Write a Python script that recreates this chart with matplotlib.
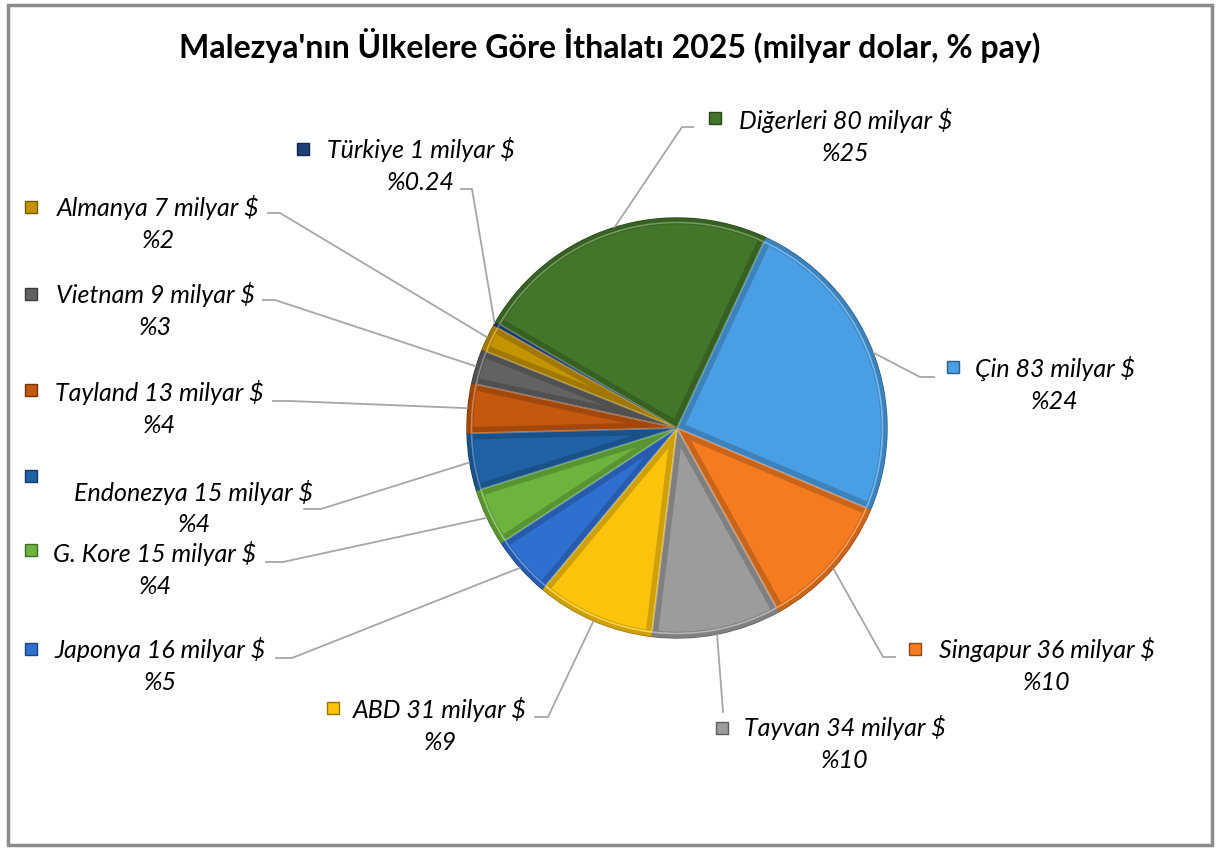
import matplotlib.pyplot as plt
from matplotlib.patches import Rectangle, Wedge
import matplotlib.colors as mcolors
import numpy as np

plt.rcParams['font.family'] = ['Lato', 'DejaVu Sans']

# veriler
countries = ["Çin", "Singapur", "Tayvan", "ABD", "Japonya", "G. Kore",
             "Endonezya", "Tayland", "Vietnam", "Almanya", "Türkiye", "Diğerleri"]
values = [83, 36, 34, 31, 16, 15, 15, 13, 9, 7, 1, 80]
shares = ["%24", "%10", "%10", "%9", "%5", "%4", "%4", "%4", "%3", "%2", "%0.24", "%25"]

colors = ["#4A9FE4", "#F47B20", "#9C9C9C", "#FBC30C", "#2F6FD0", "#6DB43E",
          "#1F63A6", "#C5580F", "#626262", "#C49400", "#203F78", "#43762A"]

W, H = 1217, 850

# etiket yerleşimi (piksel, sol üstten): satır1 merkezi, kutu, kılavuz çizgisi köşe/uç
label_pos = {
    "Çin":       dict(c=(1055, 368), k=(953, 367), lead=[(920, 377), (934, 377)]),
    "Singapur":  dict(c=(1047, 650), k=(915, 649), lead=[(883, 657), (895, 657)]),
    "Tayvan":    dict(c=(845, 728),  k=(722, 728), lead=[(723, 712), (723, 712)]),
    "ABD":       dict(c=(440, 710),  k=(333, 708), lead=[(548, 717), (535, 717)]),
    "Japonya":   dict(c=(160, 650),  k=(31, 649),  lead=[(292, 658), (276, 658)]),
    "G. Kore":   dict(c=(155, 554),  k=(31, 550),  lead=[(283, 562), (266, 562)]),
    "Endonezya": dict(c=(194, 492),  k=(31, 476),  lead=[(321, 509), (304, 509)]),
    "Tayland":   dict(c=(159, 392),  k=(31, 390),  lead=[(290, 401), (273, 401)]),
    "Vietnam":   dict(c=(155, 294),  k=(31, 294),  lead=[(275, 300), (263, 300)]),
    "Almanya":   dict(c=(158, 207),  k=(31, 207),  lead=[(280, 213), (268, 213)]),
    "Türkiye":   dict(c=(421, 149),  k=(303, 149), lead=[(472, 189), (461, 189)]),
    "Diğerleri": dict(c=(846, 120),  k=(715, 118), lead=[(682, 127), (693, 127)]),
}

fig = plt.figure(figsize=(W / 100, H / 100), dpi=100)
ax = fig.add_axes([0, 0, 1, 1])

cx, cy, r = 677, H - 428, 210


def shade(c, f):
    return tuple(np.clip(np.array(mcolors.to_rgb(c)) * f, 0, 1))


def tint(c, f):
    rgb = np.array(mcolors.to_rgb(c))
    return tuple(rgb + (1 - rgb) * f)


wedges, _ = ax.pie(values, colors=colors, startangle=65, counterclock=False,
                   center=(cx, cy), radius=r, frame=True,
                   wedgeprops=dict(linewidth=1.0))
ax.set_xlim(0, W)
ax.set_ylim(0, H)
ax.axis('off')

# eğimli (bevel) görünüm için iç kenar bantları
for w, col in zip(wedges, colors):
    w.set_edgecolor(shade(col, 0.6))
    band = Wedge((cx, cy), r, w.theta1, w.theta2, facecolor="none",
                 edgecolor=shade(col, 0.82), lw=9, zorder=w.get_zorder() + 0.1)
    ax.add_patch(band)
    band.set_clip_path(w)
    hl = Wedge((cx, cy), r - 4.5, w.theta1, w.theta2, facecolor="none",
               edgecolor=tint(col, 0.25), lw=1.2, zorder=w.get_zorder() + 0.2)
    ax.add_patch(hl)
    hl.set_clip_path(w)

# kılavuz çizgileri ve etiketler
for w, name, val, sh, col in zip(wedges, countries, values, shares, colors):
    p = label_pos[name]
    mid = np.deg2rad((w.theta1 + w.theta2) / 2)
    px, py = cx + r * np.cos(mid), cy + r * np.sin(mid)
    (x1, y1), (x2, y2) = p["lead"]
    ax.plot([px, x1, x2], [py, H - y1, H - y2], color="#A6A6A6", lw=1.3, zorder=1)

    tx, ty = p["c"]
    ax.text(tx, H - ty, f"{name} {val} milyar $", ha="center", va="center",
            fontsize=18, style="italic", color="black")
    ax.text(tx, H - ty - 33, sh, ha="center", va="center",
            fontsize=18, style="italic", color="black")
    kx, ky = p["k"]
    ax.add_patch(Rectangle((kx - 6, H - ky - 6), 12, 12, facecolor=col,
                           edgecolor=shade(col, 0.6), lw=1))

ax.text(610, H - 45, "Malezya'nın Ülkelere Göre İthalatı 2025 (milyar dolar, % pay)",
        ha="center", va="center", fontsize=23, fontweight="bold")

# çerçeve
ax.add_patch(Rectangle((8, H - 845), 1204, 840, fill=False,
                       edgecolor="#8C8C8C", lw=2.5))

fig.savefig("out.png", dpi=100)
